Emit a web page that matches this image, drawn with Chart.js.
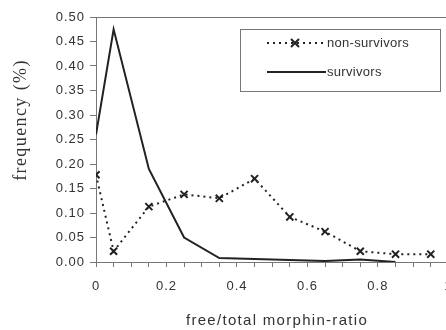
<!DOCTYPE html>
<html><head><meta charset="utf-8">
<script src="https://cdn.jsdelivr.net/npm/chart.js@4/dist/chart.umd.min.js"></script>
<style>html,body{margin:0;padding:0;background:#fff;overflow:hidden;width:446px;height:330px}
#wrap{position:absolute;left:0;top:0;width:464px;height:330px}</style>
</head><body><div id="wrap"><canvas id="c" width="464" height="330"></canvas></div>
<script>
const ratioBins = [0, 0.05, 0.15, 0.25, 0.35, 0.45, 0.55, 0.65, 0.75, 0.85, 0.95];
const nonSurvivors = [0.178, 0.022, 0.113, 0.138, 0.130, 0.170, 0.092, 0.062, 0.022, 0.016, 0.016];
const survivorBins = [0, 0.05, 0.15, 0.25, 0.35, 0.45, 0.55, 0.65, 0.75, 0.85];
const survivors = [0.260, 0.475, 0.190, 0.050, 0.008, 0.006, 0.004, 0.002, 0.005, 0.000];
const seriesNames = ['non-survivors', 'survivors'];
const xTitle = 'free/total morphin-ratio';
const yTitle = 'frequency (%)';

const toPts = (xs, ys) => xs.map((x, i) => ({x, y: ys[i]}));

const legendPlugin = {
  id: 'boxLegend',
  afterDraw(chart) {
    const ctx = chart.ctx;
    ctx.save();
    ctx.fillStyle = '#fff';
    ctx.fillRect(240, 29, 200, 62);
    ctx.strokeStyle = '#777';
    ctx.lineWidth = 1;
    ctx.strokeRect(240.5, 29.5, 200, 62);
    // entry 1
    ctx.strokeStyle = '#222';
    ctx.lineWidth = 2;
    ctx.setLineDash([2, 4]);
    ctx.beginPath(); ctx.moveTo(267, 43); ctx.lineTo(323, 43); ctx.stroke();
    ctx.setLineDash([]);
    ctx.beginPath();
    ctx.moveTo(291, 39); ctx.lineTo(299, 47);
    ctx.moveTo(299, 39); ctx.lineTo(291, 47);
    ctx.stroke();
    // entry 2
    ctx.beginPath(); ctx.moveTo(267, 72); ctx.lineTo(326, 72); ctx.stroke();
    ctx.fillStyle = '#333';
    ctx.font = '13px "Liberation Sans", Arial, sans-serif';
    ctx.letterSpacing = '0.3px';
    ctx.textBaseline = 'middle';
    ctx.textAlign = 'left';
    ctx.fillText(seriesNames[0], 327, 43);
    ctx.fillText(seriesNames[1], 327, 72);
    // x title
    ctx.font = '15px "Liberation Sans", Arial, sans-serif';
    ctx.letterSpacing = '1.3px';
    ctx.textAlign = 'center';
    ctx.fillText(xTitle, 277, 321);
    // y title
    ctx.letterSpacing = '1.4px';
    ctx.translate(21, 120);
    ctx.rotate(-Math.PI / 2);
    ctx.font = '18px "Liberation Serif", "Times New Roman", serif';
    ctx.fillText(yTitle, 0, 0);
    ctx.restore();
  }
};

const spacingPlugin = {
  id: 'spacing',
  beforeInit(chart) { chart.ctx.letterSpacing = '1px'; },
  beforeDraw(chart) { chart.ctx.letterSpacing = '1px'; }
};

new Chart(document.getElementById('c'), {
  type: 'line',
  data: {
    datasets: [
      {
        label: seriesNames[0],
        data: toPts(ratioBins, nonSurvivors),
        borderColor: '#222',
        borderWidth: 2,
        borderDash: [2, 4],
        pointStyle: 'crossRot',
        pointRadius: 5,
        pointBorderWidth: 2,
        pointBorderColor: '#222',
        tension: 0,
        fill: false
      },
      {
        label: seriesNames[1],
        data: toPts(survivorBins, survivors),
        borderColor: '#222',
        borderWidth: 2,
        pointRadius: 0,
        tension: 0,
        fill: false
      }
    ]
  },
  options: {
    responsive: false,
    animation: false,
    devicePixelRatio: 1,
    layout: {padding: {top: 17, right: 0, left: 0, bottom: 0}},
    plugins: {legend: {display: false}, tooltip: {enabled: false}},
    scales: {
      x: {
        type: 'linear', min: 0, max: 1,
        border: {color: '#777', width: 1},
        grid: {drawOnChartArea: false, color: '#777', tickLength: 5},
        ticks: {
          stepSize: 0.05, autoSkip: false, maxRotation: 0,
          color: '#333', padding: 12,
          font: {family: '"Liberation Sans", Arial, sans-serif', size: 13},
          callback: v => {
            const r = Math.round(v * 100);
            if (r % 20 !== 0) return '';
            return r === 0 ? '0' : r === 100 ? '1' : (r / 100).toFixed(1);
          }
        },
        afterFit: s => { s.height = 68; }
      },
      y: {
        min: 0, max: 0.5,
        border: {color: '#777', width: 1},
        grid: {drawOnChartArea: false, color: '#777', tickLength: 6},
        ticks: {
          stepSize: 0.05, color: '#333', padding: 5,
          font: {family: '"Liberation Sans", Arial, sans-serif', size: 13},
          callback: v => v.toFixed(2)
        },
        afterFit: s => { s.width = 96; }
      }
    }
  },
  plugins: [spacingPlugin, legendPlugin, {
    id: 'topBorder',
    afterDraw(chart) {
      const ctx = chart.ctx, a = chart.chartArea;
      ctx.save();
      ctx.strokeStyle = '#777'; ctx.lineWidth = 1;
      ctx.beginPath(); ctx.moveTo(93, a.top + 0.5); ctx.lineTo(464, a.top + 0.5); ctx.stroke();
      ctx.restore();
    }
  }]
});
</script></body></html>
